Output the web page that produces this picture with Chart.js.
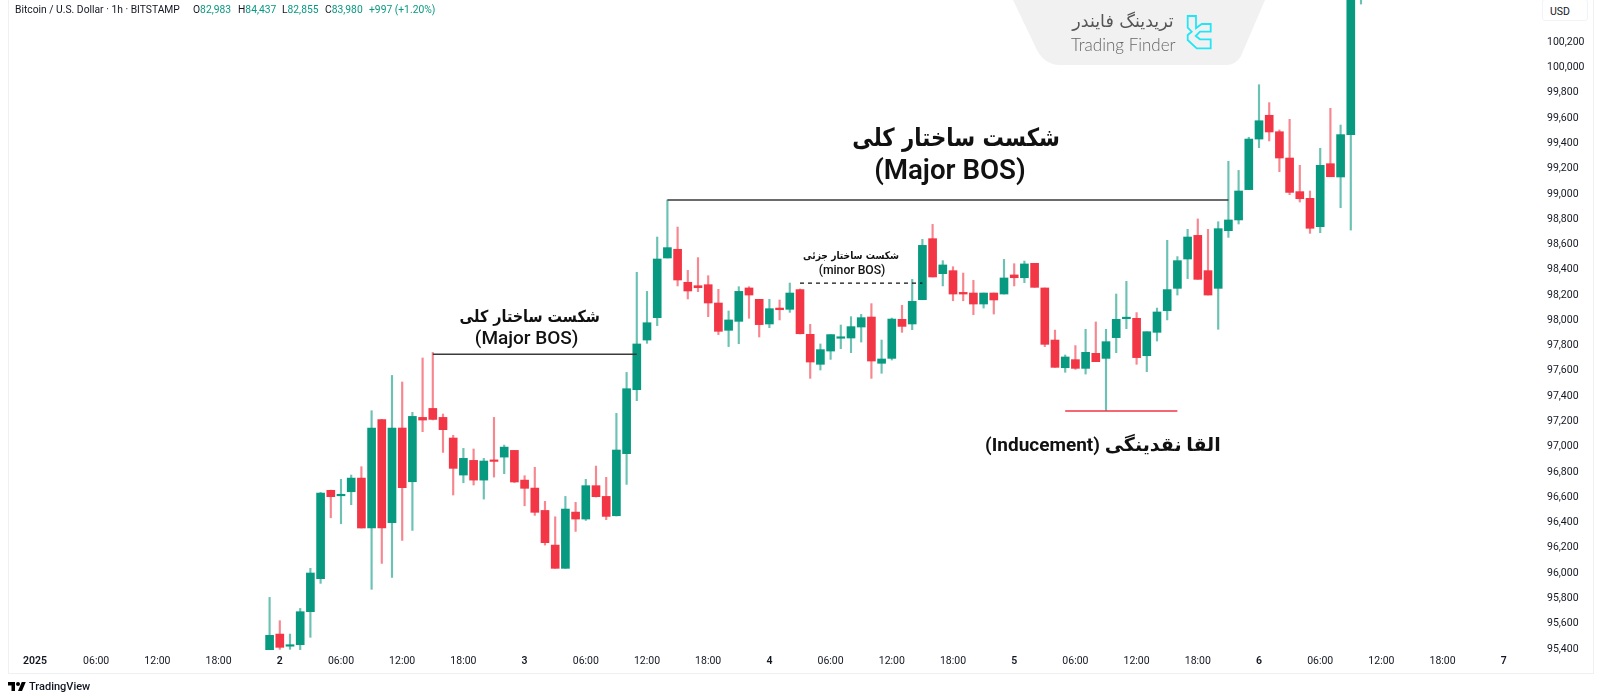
<!DOCTYPE html>
<html>
<head>
<meta charset="utf-8">
<title>BTCUSD 1h</title>
<script src="https://cdn.jsdelivr.net/npm/chart.js@4/dist/chart.umd.min.js"></script>
<style>
  html, body { margin: 0; background: #fff; }
  #wrap { position: relative; width: 1601px; height: 700px; overflow: hidden; font-family: Roboto, sans-serif; color: #131722; }
  canvas { position: absolute; left: 0; top: 0; }
  #frame { position: absolute; left: 8px; top: -1px; width: 1584px; height: 673px; border: 1px solid #eff0f2; box-sizing: content-box; }
  #legend { position: absolute; top: 3px; left: 0; height: 14px; font-size: 10.3px; line-height: 14px; white-space: nowrap; }
  #legend span { position: absolute; top: 0; }
  #legend b { font-weight: 400; color: #089981; }
  #usd { position: absolute; left: 1542px; top: -1px; width: 46px; height: 22px; border: 1px solid #f0f3fa; border-radius: 3px; background: #fff; font-size: 10.5px; line-height: 24px; text-indent: 7px; box-sizing: border-box; }
  #tv { position: absolute; left: 8px; top: 680px; height: 14px; }
  #tvname { position: absolute; left: 29px; top: 680px; font-size: 11px; line-height: 14px; font-weight: 500; }
  #badge { position: absolute; left: 1010px; top: 0; }
  #fa { position: absolute; left: 1061px; top: 11px; width: 124px; text-align: center; font: 17.5px "DejaVu Sans"; color: #555; direction: rtl; }
  #en { position: absolute; left: 1071px; top: 34px; font: 300 17px Lato, sans-serif; color: #666; }
</style>
</head>
<body>
<div id="wrap">
  <canvas id="chart" width="1601" height="700"></canvas>
  <div id="frame"></div>
  <div id="legend">
    <span style="left:15px">Bitcoin / U.S. Dollar · 1h · BITSTAMP</span>
    <span style="left:193px">O<b>82,983</b></span>
    <span style="left:238px">H<b>84,437</b></span>
    <span style="left:282px">L<b>82,855</b></span>
    <span style="left:325px">C<b>83,980</b></span>
    <span style="left:369px"><b>+997 (+1.20%)</b></span>
  </div>
  <div id="usd">USD</div>
  <svg id="badge" width="260" height="66">
    <path d="M3 0 L25 46 Q33 65 50 65 L216 65 Q226 65 231 56 L255 0 Z" fill="#f1f1f2"/>
    <path d="M177.7 16 H186 V28.3 L191.7 24 H200.7 V31.7 H190 L185.7 36 L190 39.3 H200.7 V48.3 H186.7 L177.7 40 V35 L181.7 31.7 L177.7 27.7 Z" fill="none" stroke="#22e6f5" stroke-width="1.8"/>
  </svg>
  <div id="fa">تریدینگ فایندر</div>
  <div id="en">Trading Finder</div>
  <svg id="tv" viewBox="0 0 36 28" width="18" height="14"><path d="M14 22H7V11H0V4h14v18zM28 22h-8l7.5-18h8L28 22z"/><circle cx="20" cy="8" r="4"/></svg>
  <div id="tvname">TradingView</div>
</div>
<script>
const firstHour = 23; // first candle is 23:00 on the 1st

const opens = [
  95300, 95506, 95410, 95422, 95683, 95944, 96643, 96600, 96632, 96740,
  96345, 97202, 96387, 97136, 96711, 97220, 97291, 97220, 97057, 96764,
  96880, 96724, 96877, 96906, 96959, 96724, 96661, 96484, 96210, 96026,
  96471, 96416, 96680, 96595, 96442, 96933, 97439, 97832, 98009, 98481,
  98550, 98289, 98262, 98270, 98125, 97909, 97980, 98244, 98154, 97959,
  98085, 98075, 98231, 97877, 97640, 97745, 97846, 97848, 97935, 98014,
  97648, 97687, 97996, 97959, 98151, 98634, 98357, 98381, 98209, 98204,
  98117, 98204, 98196, 98347, 98325, 98439, 98244, 97832, 97613, 97677,
  97608, 97727, 97687, 97851, 98001, 98004, 97708, 97893, 98064, 98241,
  98473, 98660, 98381, 98241, 98697, 98782, 99022, 99422, 99610, 99480,
  99272, 99006, 98953, 98729, 99227, 99122, 99457, 100560
];
const highs = [
  95796, 95612, 95506, 95709, 96026, 96627, 96645, 96730, 96764, 96830,
  97273, 97205, 97552, 97500, 97260, 97690, 97734, 97247, 97078, 96975,
  96970, 96896, 97220, 97001, 96959, 96759, 96825, 96556, 96434, 96595,
  96548, 96730, 96835, 96746, 97252, 97576, 98368, 98217, 98647, 98940,
  98726, 98383, 98484, 98341, 98233, 98062, 98254, 98254, 98154, 98154,
  98149, 98283, 98236, 97956, 97801, 97875, 97951, 98017, 98035, 98120,
  97832, 98006, 98107, 98312, 98629, 98747, 98460, 98412, 98362, 98304,
  98204, 98204, 98470, 98436, 98457, 98439, 98244, 97911, 97714, 97788,
  97917, 97975, 97917, 98196, 98296, 98049, 97898, 98085, 98621, 98492,
  98708, 98790, 98708, 98768, 99246, 99174, 99436, 99852, 99710, 99494,
  99578, 99214, 99011, 99349, 99665, 99533, 100700, 100700
];
const lows = [
  95300, 95385, 95385, 95380, 95480, 95907, 96426, 96379, 96529, 96345,
  95860, 96065, 95954, 96247, 96326, 97107, 97200, 96943, 96606, 96703,
  96685, 96574, 96748, 96775, 96705, 96521, 96445, 96210, 96026, 96026,
  96318, 96405, 96590, 96411, 96440, 96690, 97352, 97806, 97946, 98481,
  98260, 98157, 98215, 98017, 97875, 97780, 97803, 98004, 97856, 97930,
  97991, 98051, 97880, 97529, 97595, 97679, 97764, 97732, 97816, 97529,
  97569, 97674, 97893, 97914, 98151, 98331, 98260, 98143, 98143, 98033,
  98085, 98038, 98196, 98260, 98286, 98249, 97780, 97616, 97577, 97600,
  97563, 97661, 97273, 97732, 97922, 97640, 97582, 97824, 97991, 98188,
  98318, 98312, 98188, 97917, 98644, 98750, 99022, 99354, 99407, 99164,
  98982, 98924, 98676, 98681, 99124, 98879, 98702, 100490
];
const closes = [
  95496, 95401, 95415, 95683, 95989, 96622, 96593, 96605, 96740, 96345,
  97136, 96345, 97136, 96664, 97228, 97199, 97204, 97123, 96817, 96896,
  96724, 96875, 96872, 96985, 96709, 96659, 96469, 96229, 96026, 96495,
  96416, 96680, 96593, 96437, 96962, 97447, 97801, 97969, 98473, 98563,
  98307, 98220, 98246, 98125, 97901, 97991, 98217, 98188, 97954, 98080,
  98072, 98204, 97882, 97658, 97756, 97875, 97851, 97938, 98009, 97666,
  97682, 97998, 97940, 98138, 98581, 98331, 98426, 98196, 98196, 98117,
  98204, 98149, 98323, 98325, 98434, 98249, 97798, 97616, 97698, 97608,
  97735, 97661, 97819, 97996, 98006, 97693, 97898, 98054, 98231, 98460,
  98647, 98312, 98188, 98713, 98782, 99011, 99422, 99567, 99478, 99272,
  99000, 98950, 98716, 99214, 99124, 99457, 100640, 100640
];

const priceTicks = [
  95400, 95600, 95800, 96000, 96200, 96400, 96600, 96800, 97000, 97200, 97400, 97600, 97800,
  98000, 98200, 98400, 98600, 98800, 99000, 99200, 99400, 99600, 99800, 100000, 100200
];
const timeTicks = [
  "2025", "06:00", "12:00", "18:00", "2", "06:00", "12:00", "18:00", "3", "06:00", "12:00", "18:00",
  "4", "06:00", "12:00", "18:00", "5", "06:00", "12:00", "18:00", "6", "06:00", "12:00", "18:00", "7"
];

// drawn levels: first/last candle index and the price
const bosLevels = [
  { from: 16, to: 36, price: 97720, color: "#3a3a3a", width: 1.5 },
  { from: 39, to: 94, price: 98940, color: "#3a3a3a", width: 1.5 },
  { from: 52, to: 64, price: 98283, color: "#111", width: 1.3, dash: [4, 4] },
  { from: 78, to: 89, price: 97271, color: "#F23645", width: 1.5 },
];
// captions: centre hour and price, squeeze narrows the wider fallback Arabic face
const captions = [
  { text: "شکست ساختار کلی", hour: 90.3, price: 99420, font: "bold 25px 'DejaVu Sans'", squeeze: 0.85 },
  { text: "(Major BOS)", hour: 89.7, price: 99158, font: "600 27.7px Roboto" },
  { text: "شکست ساختار کلی", hour: 48.5, price: 98010, font: "bold 16.5px 'DejaVu Sans'", squeeze: 0.87 },
  { text: "(Major BOS)", hour: 48.2, price: 97838, font: "500 19px Roboto" },
  { text: "شکست ساختار جزئی", hour: 80, price: 98495, font: "bold 10.5px 'DejaVu Sans'", squeeze: 0.87 },
  { text: "(minor BOS)", hour: 80.1, price: 98382, font: "500 12.2px Roboto" },
  { text: "القا نقدینگی (Inducement)", hour: 104.7, price: 96994, font: "bold 19px Roboto, 'DejaVu Sans'", rtl: true },
];

const green = "#089981";
const red = "#F23645";
const isUp = (i) => closes[i] >= opens[i];

const drawings = {
  id: "drawings",
  afterDatasetsDraw(chart) {
    const { ctx, scales } = chart;
    ctx.save();
    bosLevels.forEach((l) => {
      const y = scales.y.getPixelForValue(l.price);
      ctx.beginPath();
      ctx.setLineDash(l.dash || []);
      ctx.strokeStyle = l.color;
      ctx.lineWidth = l.width;
      ctx.moveTo(scales.x.getPixelForValue(firstHour + l.from), y);
      ctx.lineTo(scales.x.getPixelForValue(firstHour + l.to), y);
      ctx.stroke();
    });
    ctx.setLineDash([]);
    ctx.fillStyle = "#111";
    ctx.textAlign = "center";
    ctx.textBaseline = "middle";
    captions.forEach((c) => {
      ctx.save();
      ctx.font = c.font;
      ctx.direction = c.rtl || c.squeeze ? "rtl" : "ltr";
      ctx.translate(scales.x.getPixelForValue(c.hour), scales.y.getPixelForValue(c.price));
      ctx.scale(c.squeeze || 1, 1);
      ctx.fillText(c.text, 0, 0);
      ctx.restore();
    });
    ctx.restore();
  },
};

new Chart(document.getElementById("chart"), {
  type: "bar",
  data: {
    datasets: [
      {
        // wicks
        data: opens.map((_, i) => ({ x: firstHour + i, y: [lows[i], highs[i]] })),
        backgroundColor: opens.map((_, i) => (isUp(i) ? "rgba(8,153,129,0.6)" : "rgba(242,54,69,0.6)")),
        barThickness: 1.5,
        grouped: false,
        order: 2,
      },
      {
        // bodies
        data: opens.map((o, i) => ({ x: firstHour + i, y: [o, closes[i]] })),
        backgroundColor: opens.map((_, i) => (isUp(i) ? green : red)),
        barThickness: 8,
        minBarLength: 1.5,
        grouped: false,
        order: 1,
      },
    ],
  },
  options: {
    responsive: false,
    animation: false,
    devicePixelRatio: 1,
    layout: { padding: 0 },
    plugins: { legend: { display: false }, tooltip: { enabled: false } },
    scales: {
      x: {
        type: "linear",
        min: -3.431,
        max: 147.549,
        offset: false,
        grid: { display: false, drawTicks: false },
        border: { display: false },
        afterFit: (s) => { s.height = 50; s.paddingLeft = 0; s.paddingRight = 0; },
        afterBuildTicks: (s) => { s.ticks = timeTicks.map((_, i) => ({ value: i * 6 })); },
        ticks: {
          padding: 5,
          autoSkip: false,
          maxRotation: 0,
          color: "#131722",
          font: (c) => ({ family: "Roboto", size: 10.5, weight: c.tick && c.tick.value % 24 === 0 ? "600" : "400" }),
          callback: (v) => timeTicks[v / 6],
        },
      },
      y: {
        type: "linear",
        position: "right",
        min: 95380,
        max: 100522,
        grid: { display: false, drawTicks: false },
        border: { display: false },
        afterFit: (s) => { s.width = 61; s.paddingTop = 0; s.paddingBottom = 0; },
        afterBuildTicks: (s) => { s.ticks = priceTicks.map((value) => ({ value })); },
        ticks: {
          padding: 7,
          labelOffset: 1.5,
          color: "#131722",
          font: { family: "Roboto", size: 10.5 },
          callback: (v) => v.toLocaleString("en-US"),
        },
      },
    },
  },
  plugins: [drawings],
});
</script>
</body>
</html>
